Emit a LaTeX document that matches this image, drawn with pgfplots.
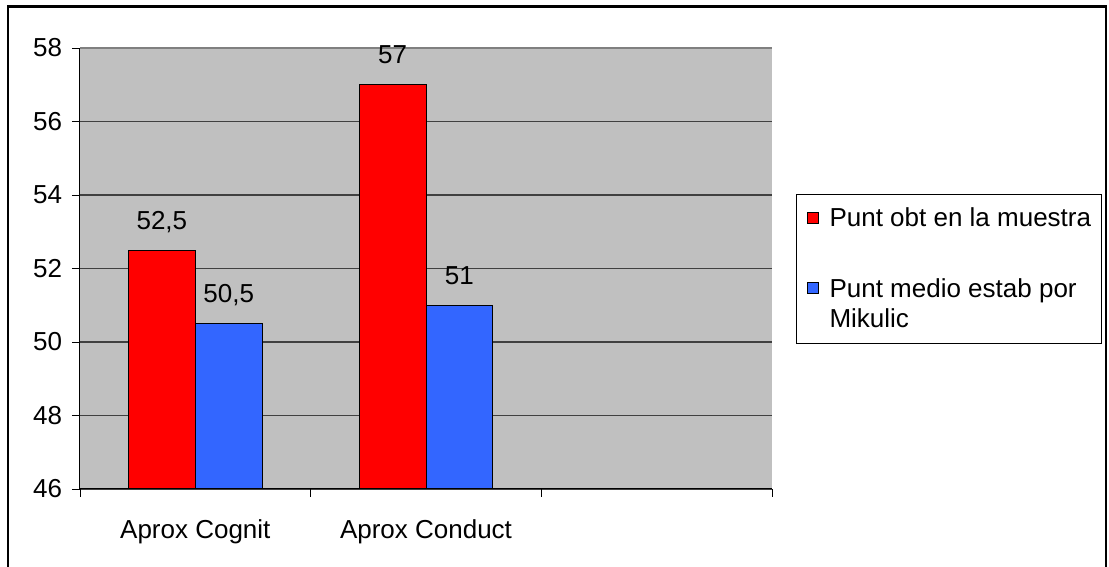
\documentclass[border=0pt]{standalone}
\usepackage{fontspec}
\setmainfont{Liberation Sans}
\usepackage{pgfplots}
\pgfplotsset{compat=1.18}
\definecolor{barred}{RGB}{255,0,0}
\definecolor{barblue}{RGB}{51,102,255}
\definecolor{plotgray}{RGB}{192,192,192}
\definecolor{gridline}{RGB}{64,64,64}
\definecolor{topline}{RGB}{128,128,128}
\begin{document}
\fontsize{26}{32}\selectfont
\begin{tikzpicture}[x=1pt,y=1pt]
\useasboundingbox (0,0) rectangle (1109,567);
% outer chart frame
\draw[line width=2.5pt] (8,-20) rectangle (1106,560.5);
\begin{axis}[
  at={(80pt,78pt)}, anchor=south west,
  scale only axis, width=692pt, height=441pt,
  ybar=0pt, bar width=0.29,
  ymin=46, ymax=58, ytick={46,48,...,56},
  extra y ticks={58},
  extra y tick style={grid style={topline, line width=1.5pt}},
  xmin=-0.5, xmax=2.5,
  xtick={-0.5,0.5,1.5,2.5}, xticklabels={},
  extra x ticks={0,1},
  extra x tick labels={Aprox Cognit, Aprox Conduct},
  extra x tick style={major tick length=0pt, grid=none,
    xticklabel style={yshift=-22pt}},
  axis lines=left,
  axis line style={-, black, line width=1pt},
  axis background/.style={fill=plotgray},
  ymajorgrids, grid style={gridline, line width=1.1pt},
  tick align=outside, major tick length=8pt,
  tick style={black, line width=0.9pt},
  /pgf/number format/assume math mode=true,
  yticklabel style={xshift=-1pt},
  nodes near coords={\pgfmathprintnumber[use comma,fixed,precision=1,assume math mode=true]{\pgfplotspointmeta}},
  nodes near coords style={anchor=base, inner sep=0pt, yshift=21pt, black},
  legend cell align=left,
  legend style={at={(1.0347,0.669)}, anchor=north west, draw=black,
    line width=1pt, inner xsep=10pt, inner ysep=12pt, row sep=7.5pt,
    column sep=11pt, cells={anchor=base west}, nodes={inner sep=0pt}},
  legend image code/.code={\draw[#1,draw=black,line width=1pt] (0pt,3.5pt) rectangle (11pt,14.5pt);},
]
\addplot[fill=barred, draw=black, line width=1pt] coordinates {(0,52.5) (1,57)};
\addlegendentry{\rule{0pt}{20.5pt}Punt obt en la muestra}
\addplot[fill=barblue, draw=black, line width=1pt] coordinates {(0,50.5) (1,51)};
\addlegendentry{\rule{0pt}{59pt}Punt medio estab por}
% second line of the blue entry
\addlegendimage{empty legend}
\addlegendentry{Mikulic}
\end{axis}
\end{tikzpicture}
\end{document}
